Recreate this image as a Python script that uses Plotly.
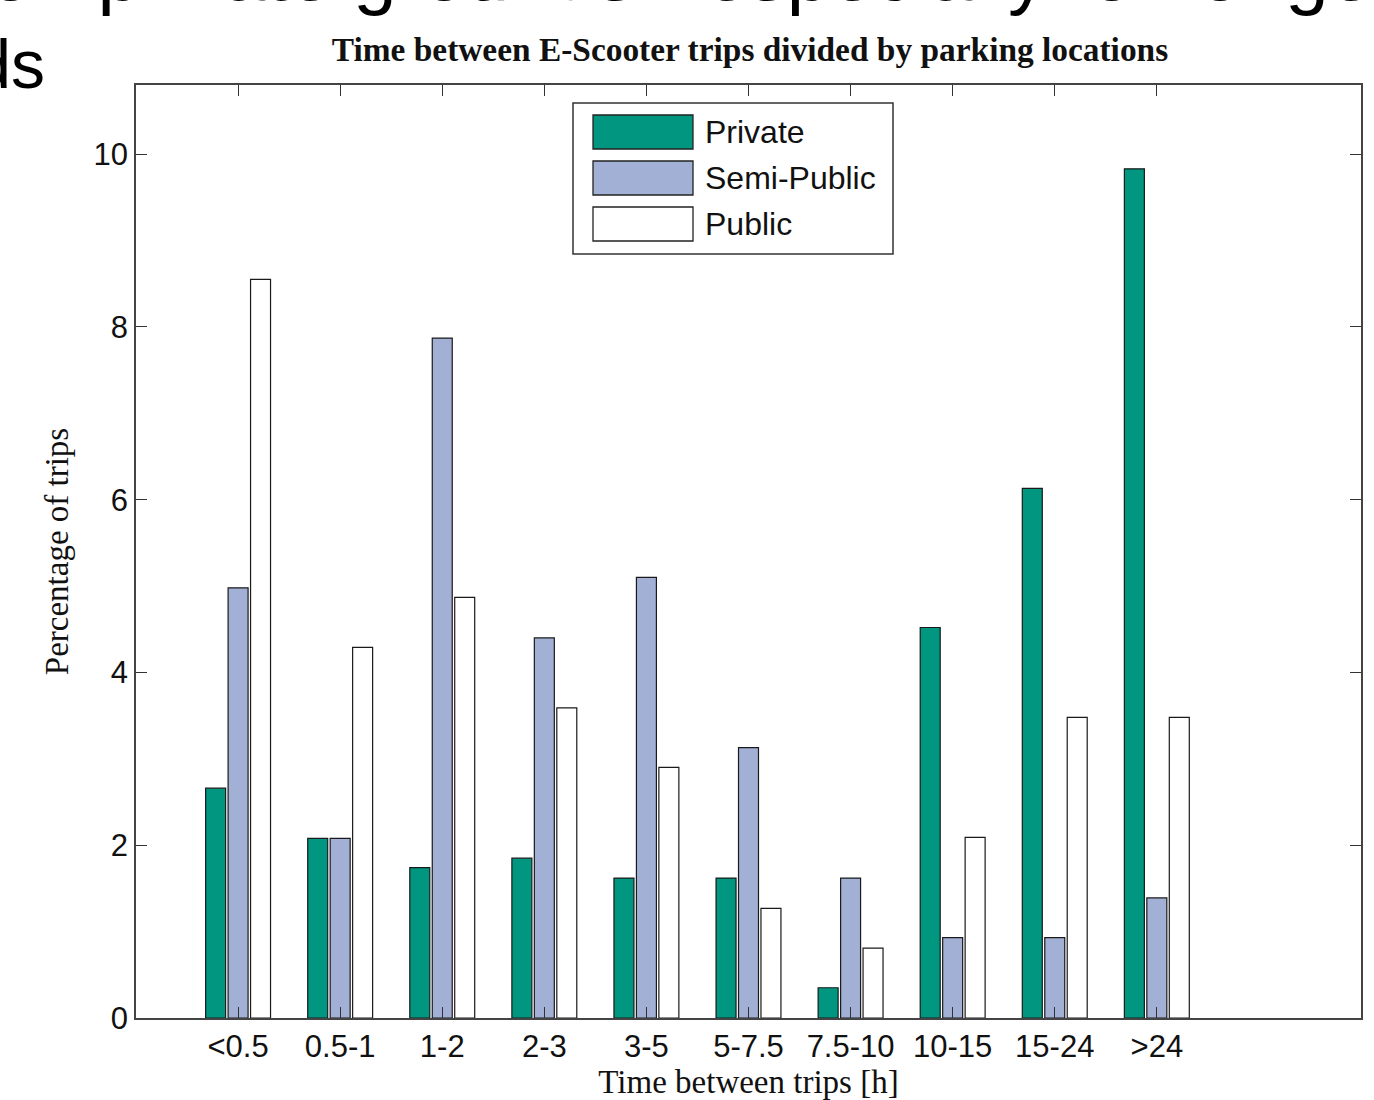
import plotly.graph_objects as go

# ---- data ----
categories = ["<0.5", "0.5-1", "1-2", "2-3", "3-5", "5-7.5", "7.5-10", "10-15", "15-24", ">24"]
positions = [1, 2, 3, 4, 5, 6, 7, 8, 9, 10]
private = [2.66, 2.08, 1.74, 1.85, 1.62, 1.62, 0.35, 4.52, 6.13, 9.83]
semi_public = [4.98, 2.08, 7.87, 4.40, 5.10, 3.13, 1.62, 0.93, 0.93, 1.39]
public = [8.55, 4.29, 4.87, 3.59, 2.90, 1.27, 0.81, 2.09, 3.48, 3.48]
series_names = ["Private", "Semi-Public", "Public"]
series_colors = ["#00967F", "#A2B0D5", "#FFFFFF"]
y_ticks = [0, 2, 4, 6, 8, 10]

W, H = 1374, 1100
L, R, T, B = 136, 13, 85, 82
PW, PH = W - L - R, H - T - B


def px(x):
    return (x - L) / PW


def py(y):
    return (H - B - y) / PH


fig = go.Figure()
for name, vals, col in zip(series_names, [private, semi_public, public], series_colors):
    fig.add_trace(go.Bar(
        x=positions, y=vals, name=name,
        marker=dict(color=col, line=dict(color="#1a1a1a", width=1.2)),
        showlegend=False,
    ))

axis_common = dict(
    showline=True, linecolor="#444444", linewidth=1.5, mirror="ticks",
    ticks="inside", ticklen=11, tickwidth=1.3, tickcolor="#333333",
    showgrid=False, zeroline=False, automargin=False,
    tickfont=dict(family="Liberation Sans, Arial", size=31, color="#111111"),
)

serif = "Liberation Serif, Times New Roman"

fig.update_layout(
    width=W, height=H,
    margin=dict(l=L, r=R, t=T, b=B, autoexpand=False),
    paper_bgcolor="white", plot_bgcolor="white",
    barmode="group", bargap=0.34, bargroupgap=0.11,
    title=dict(
        text="Time between E-Scooter trips divided by parking locations",
        font=dict(family=serif, size=33.4, color="#111111", weight="bold"),
        x=px(750), xanchor="center", xref="paper",
        y=1 - 49 / H, yanchor="middle", yref="container",
    ),
    xaxis=dict(
        range=[0, 12], tickmode="array", tickvals=positions, ticktext=categories,
        title=dict(text="Time between trips [h]", standoff=20,
                   font=dict(family=serif, size=33, color="#111111")),
        **axis_common,
    ),
    yaxis=dict(
        range=[0, 10.8], tickmode="array", tickvals=y_ticks,
        ticktext=[str(v) for v in y_ticks],
        title=dict(text="Percentage of trips", standoff=15,
                   font=dict(family=serif, size=33, color="#111111")),
        **axis_common,
    ),
)

# ---- legend drawn as shapes + text ----
shapes = [dict(type="rect", xref="paper", yref="paper",
               x0=px(573), x1=px(893), y0=py(254), y1=py(103),
               line=dict(color="#333333", width=1.5), fillcolor="white", layer="above")]
annotations = []
sw_tops = [115, 161, 207]
sw_h = 34
for name, col, top in zip(series_names, series_colors, sw_tops):
    shapes.append(dict(type="rect", xref="paper", yref="paper",
                       x0=px(593), x1=px(693), y0=py(top + sw_h), y1=py(top),
                       line=dict(color="#222222", width=1.3), fillcolor=col, layer="above"))
    annotations.append(dict(text=name, xref="paper", yref="paper",
                            x=px(703), y=py(top + sw_h / 2), xanchor="left", yanchor="middle",
                            showarrow=False,
                            font=dict(family="Liberation Sans, Arial", size=32, color="#111111")))

# ---- cropped slide text at top-left (as in the reference) ----
annotations.append(dict(text="on private grounds - especially for longer", xref="paper", yref="paper",
                        x=px(-13), y=py(19), xanchor="left", yanchor="bottom", showarrow=False,
                        font=dict(family="Liberation Sans, Arial", size=78, color="#000000")))
annotations.append(dict(text="periods", xref="paper", yref="paper",
                        x=px(47), y=py(104), xanchor="right", yanchor="bottom", showarrow=False,
                        font=dict(family="Liberation Sans, Arial", size=68, color="#000000")))

fig.update_layout(shapes=shapes, annotations=annotations)

fig.write_html("out.html", config={"displayModeBar": False},
               post_script="document.body.style.margin='0';document.body.style.padding='0';")
